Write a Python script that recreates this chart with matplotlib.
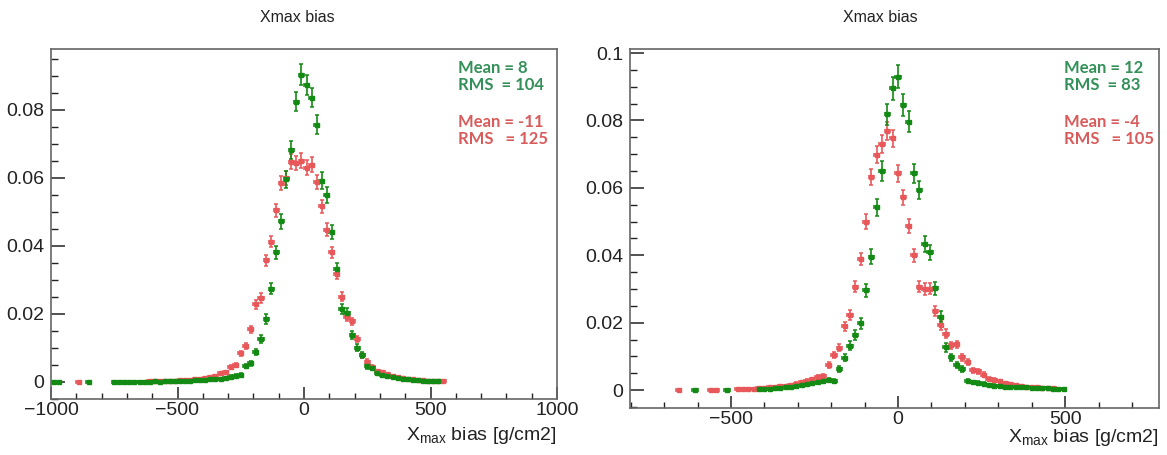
import matplotlib
matplotlib.use("Agg")
import matplotlib.pyplot as plt
from matplotlib.ticker import MultipleLocator

plt.rcParams['font.family'] = ['Liberation Sans', 'DejaVu Sans']
plt.rcParams['mathtext.fontset'] = 'custom'
plt.rcParams['mathtext.rm'] = 'Liberation Sans'
plt.rcParams['mathtext.it'] = 'Liberation Sans:italic'

# left panel, bin width 20
lg_x = [-990, -970, -850, -750, -730, -710, -690, -670, -650, -630, -610,
        -590, -570, -550, -530, -510, -490, -470, -450, -430, -410, -390,
        -370, -350, -330, -310, -290, -270, -250, -230, -210, -190, -170,
        -150, -130, -110, -90, -70, -50, -30, -10, 10, 30, 50, 70, 90, 110,
        130, 150, 170, 190, 210, 230, 250, 270, 290, 310, 330, 350, 370, 390,
        410, 430, 450, 470, 490, 510, 530]
lg_y = [0.0001, 0.0001, 0.0001, 0.0001, 0.0001, 0.0001, 0.0001, 0.0001,
        0.0001, 0.0001, 0.0001, 0.0002, 0.0001, 0.0002, 0.0002, 0.0003,
        0.0003, 0.0003, 0.0004, 0.0005, 0.0005, 0.0006, 0.0008, 0.0009,
        0.0010, 0.0012, 0.0016, 0.0019, 0.0021, 0.0047, 0.0055, 0.0089,
        0.0127, 0.0185, 0.0274, 0.0381, 0.0473, 0.0596, 0.0683, 0.0824,
        0.0904, 0.0873, 0.0836, 0.0756, 0.0592, 0.0550, 0.0442, 0.0331,
        0.0216, 0.0204, 0.0138, 0.0101, 0.0078, 0.0046, 0.0041, 0.0026,
        0.0020, 0.0017, 0.0014, 0.0012, 0.0010, 0.0008, 0.0006, 0.0005,
        0.0004, 0.0004, 0.0003, 0.0003]

lr_x = [-890, -610, -590, -570, -550, -530, -510, -490, -470, -450, -430,
        -410, -390, -370, -350, -330, -310, -290, -270, -250, -230, -210,
        -190, -170, -150, -130, -110, -90, -70, -50, -30, -10, 10, 30, 50,
        70, 90, 110, 130, 150, 170, 190, 210, 230, 250, 270, 290, 310, 330,
        350, 370, 390, 410, 430, 450, 470, 490, 510, 530, 550]
lr_y = [0.0001, 0.0002, 0.0002, 0.0003, 0.0003, 0.0003, 0.0004, 0.0005,
        0.0006, 0.0007, 0.0008, 0.0010, 0.0012, 0.0015, 0.0018, 0.0026,
        0.0028, 0.0045, 0.0051, 0.0084, 0.0105, 0.0155, 0.0228, 0.0247,
        0.0358, 0.0413, 0.0505, 0.0585, 0.0600, 0.0648, 0.0644, 0.0651,
        0.0630, 0.0639, 0.0588, 0.0516, 0.0448, 0.0381, 0.0318, 0.0251,
        0.0192, 0.0178, 0.0126, 0.0078, 0.0060, 0.0045, 0.0031, 0.0029,
        0.0023, 0.0018, 0.0015, 0.0012, 0.0010, 0.0008, 0.0007, 0.0005,
        0.0004, 0.0004, 0.0003, 0.0002]

# right panel, bin width 16
rg_x = [-608, -512, -416, -400, -384, -368, -352, -336, -320, -304, -288,
        -272, -256, -240, -224, -208, -192, -176, -160, -144, -128, -112,
        -96, -80, -64, -48, -32, -16, 0, 16, 32, 48, 64, 80, 96, 112, 128,
        144, 160, 176, 192, 208, 224, 240, 256, 272, 288, 304, 320, 336, 352,
        368, 384, 400, 416, 432, 448, 464, 480, 496]
rg_y = [0.0001, 0.0001, 0.0002, 0.0003, 0.0004, 0.0005, 0.0006, 0.0008,
        0.0010, 0.0012, 0.0015, 0.0018, 0.0021, 0.0025, 0.0028, 0.0029,
        0.0026, 0.0064, 0.0096, 0.0132, 0.0163, 0.0198, 0.0297, 0.0396,
        0.0542, 0.0650, 0.0818, 0.0895, 0.0930, 0.0846, 0.0796, 0.0643,
        0.0593, 0.0433, 0.0409, 0.0302, 0.0218, 0.0127, 0.0097, 0.0074,
        0.0062, 0.0027, 0.0023, 0.0021, 0.0018, 0.0015, 0.0013, 0.0011,
        0.0010, 0.0010, 0.0009, 0.0008, 0.0008, 0.0007, 0.0006, 0.0006,
        0.0005, 0.0004, 0.0004, 0.0004]

rr_x = [-656, -560, -544, -480, -464, -448, -432, -416, -400, -384, -368,
        -352, -336, -320, -304, -288, -272, -256, -240, -224, -208, -192,
        -176, -160, -144, -128, -112, -96, -80, -64, -48, -32, -16, 0, 16,
        32, 48, 64, 80, 96, 112, 128, 144, 160, 176, 192, 208, 224, 240, 256,
        272, 288, 304, 320, 336, 352, 368, 384, 400, 416, 432, 448, 464]
rr_y = [0.0001, 0.0001, 0.0001, 0.0002, 0.0002, 0.0003, 0.0004, 0.0005,
        0.0006, 0.0008, 0.0010, 0.0011, 0.0013, 0.0015, 0.0019, 0.0023,
        0.0028, 0.0032, 0.0038, 0.0043, 0.0074, 0.0104, 0.0126, 0.0190,
        0.0223, 0.0307, 0.0389, 0.0500, 0.0633, 0.0699, 0.0730, 0.0769,
        0.0747, 0.0643, 0.0572, 0.0487, 0.0400, 0.0307, 0.0300, 0.0301,
        0.0235, 0.0193, 0.0168, 0.0133, 0.0136, 0.0097, 0.0084, 0.0059,
        0.0056, 0.0046, 0.0034, 0.0030, 0.0026, 0.0021, 0.0018, 0.0015,
        0.0012, 0.0010, 0.0009, 0.0008, 0.0007, 0.0006, 0.0005]

stats_left = ["Mean = 8\nRMS  = 104", "Mean = -11\nRMS   = 125"]
stats_right = ["Mean = 12\nRMS  = 83", "Mean = -4\nRMS   = 105"]

GREEN = '#138a13'
RED = '#e8575a'
GREEN_TXT = '#349059'
RED_TXT = '#d85c5c'

W, H = 1167, 455
fig = plt.figure(figsize=(W / 100, H / 100), dpi=100)


def px_axes(x0, y0, x1, y1):
    return fig.add_axes([x0 / W, 1 - y1 / H, (x1 - x0) / W, (y1 - y0) / H])


def draw(ax, xs, ys, half, k, color):
    err = [k * v ** 0.5 for v in ys]
    ax.errorbar(xs, ys, xerr=half, yerr=err, fmt='s', ms=2.2, color=color,
                ecolor=color, elinewidth=1.2, capsize=1.6, capthick=1.1)


def style(ax):
    for s in ['top', 'right', 'left', 'bottom']:
        ax.spines[s].set_color('#666666')
        ax.spines[s].set_linewidth(1.2)
    ax.yaxis.set_major_locator(MultipleLocator(0.02))
    ax.yaxis.set_minor_locator(MultipleLocator(0.005))
    ax.xaxis.set_major_locator(MultipleLocator(500))
    ax.xaxis.set_minor_locator(MultipleLocator(100))
    ax.tick_params(which='both', direction='in', top=False, right=False,
                   labelsize=14, colors='#222222')
    ax.tick_params(axis='y', which='major', length=10, width=1.1, pad=5)
    ax.tick_params(axis='y', which='minor', length=5, width=1.0)
    ax.tick_params(axis='x', which='major', length=8.5, width=1.1, pad=2)
    ax.tick_params(axis='x', which='minor', length=4.5, width=1.0)
    ax.yaxis.set_major_formatter(plt.FuncFormatter(
        lambda v, p: '0' if abs(v) < 1e-9 else ('%g' % round(v, 3))))


# left panel
ax1 = px_axes(51, 49, 557, 399)
draw(ax1, lr_x, lr_y, 10, 0.0085, RED)
draw(ax1, lg_x, lg_y, 10, 0.0100, GREEN)
ax1.set_xlim(-1000, 1000)
ax1.set_ylim(-0.005, 0.0979)
style(ax1)

# right panel
ax2 = px_axes(630, 49, 1159, 408)
draw(ax2, rr_x, rr_y, 8, 0.0095, RED)
draw(ax2, rg_x, rg_y, 8, 0.0112, GREEN)
ax2.set_xlim(-802, 781)
ax2.set_ylim(-0.0053, 0.1012)
style(ax2)

# titles, axis labels, stats
fig.text(297 / W, 1 - 18 / H, 'Xmax bias', ha='center', va='center',
         fontsize=11.5, color='#222222')
fig.text(880 / W, 1 - 18 / H, 'Xmax bias', ha='center', va='center',
         fontsize=11.5, color='#222222')
fig.text(557 / W, 1 - 436 / H, r'X$_\mathrm{max}$ bias [g/cm2]', ha='right',
         va='center', fontsize=14, color='#222222')
fig.text(1159 / W, 1 - 438 / H, r'X$_\mathrm{max}$ bias [g/cm2]', ha='right',
         va='center', fontsize=14, color='#222222')

for xs, txts in [(458, stats_left), (1064, stats_right)]:
    fig.text(xs / W, 1 - 60 / H, txts[0], ha='left', va='top', fontsize=12,
             family='Lato', weight='bold', color=GREEN_TXT, linespacing=1.05)
    fig.text(xs / W, 1 - 114 / H, txts[1], ha='left', va='top', fontsize=12,
             family='Lato', weight='bold', color=RED_TXT, linespacing=1.05)

fig.savefig('out.png', dpi=100)
